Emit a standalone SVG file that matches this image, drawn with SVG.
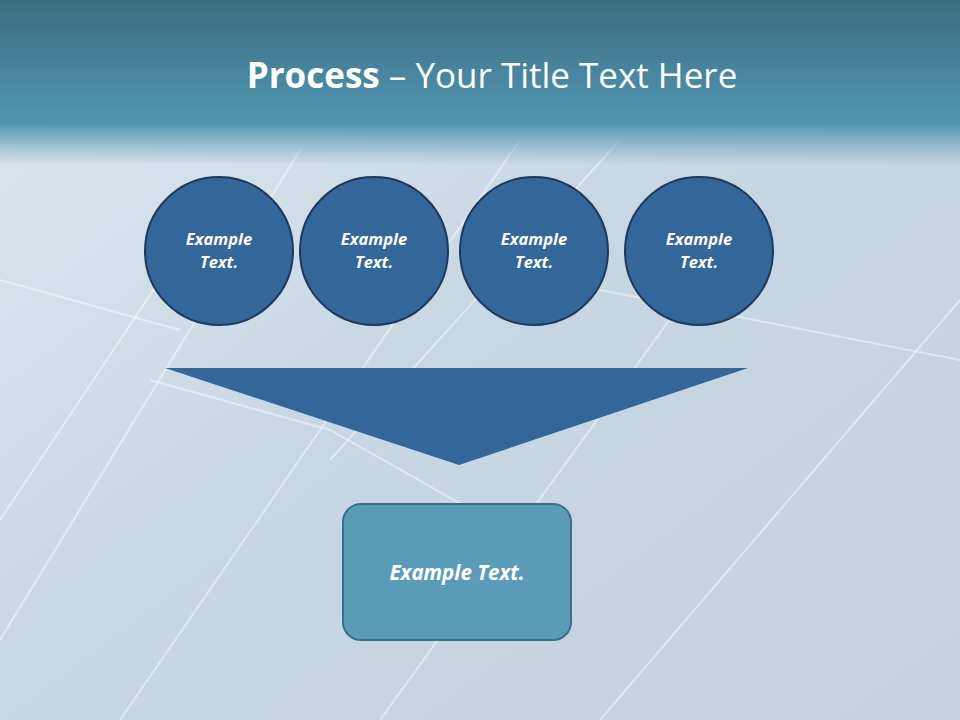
<svg xmlns="http://www.w3.org/2000/svg" width="960" height="720" viewBox="0 0 960 720">
<defs>
<linearGradient id="top" x1="0" y1="0" x2="0" y2="1">
<stop offset="0" stop-color="#3b6d82"/><stop offset="0.75" stop-color="#5196b2"/><stop offset="1" stop-color="#5fa0ba" stop-opacity="0"/>
</linearGradient>
<linearGradient id="bg" x1="0" y1="0" x2="1" y2="1">
<stop offset="0" stop-color="#dde9ef"/><stop offset="0.5" stop-color="#c6d6e2"/><stop offset="1" stop-color="#c4d2de"/>
</linearGradient>
<style>
.c{fill:#336699;stroke:#1d3a5c;stroke-width:2}
.t{font-family:"Open Sans","Liberation Sans",sans-serif;font-style:italic;font-weight:bold;fill:#fff;text-anchor:middle}
.ln{stroke:#fff;stroke-opacity:0.45;fill:none}
</style>
</defs>
<rect width="960" height="720" fill="url(#bg)"/>
<g class="ln" stroke-width="2">
<path d="M0 640 L300 150"/><path d="M120 720 L520 140"/><path d="M330 460 L620 140"/><path d="M380 720 L720 250"/><path d="M600 720 L960 300"/><path d="M0 520 L200 220"/>
<path d="M150 380 L330 430 L560 560"/><path d="M600 290 L960 360"/><path d="M0 280 L180 330"/>
</g>
<rect width="960" height="165" fill="url(#top)"/>
<text x="492" y="88" font-family="Open Sans,Liberation Sans,sans-serif" font-size="35" fill="#fff" text-anchor="middle"><tspan font-weight="bold">Process</tspan> – Your Title Text Here</text>
<g id="n1"><circle class="c" cx="219" cy="251" r="74"/><text class="t" font-size="16.5" x="219" y="245">Example</text><text class="t" font-size="16.5" x="219" y="268">Text.</text></g>
<g id="n2"><circle class="c" cx="374" cy="251" r="74"/><text class="t" font-size="16.5" x="374" y="245">Example</text><text class="t" font-size="16.5" x="374" y="268">Text.</text></g>
<g id="n3"><circle class="c" cx="534" cy="251" r="74"/><text class="t" font-size="16.5" x="534" y="245">Example</text><text class="t" font-size="16.5" x="534" y="268">Text.</text></g>
<g id="n4"><circle class="c" cx="699" cy="251" r="74"/><text class="t" font-size="16.5" x="699" y="245">Example</text><text class="t" font-size="16.5" x="699" y="268">Text.</text></g>
<g id="connectors"><polygon points="165,368 748,368 459,465" fill="#336699"/></g>
<g id="n5"><rect x="343" y="504" width="228" height="136" rx="18" fill="#5a9cb8" stroke="#3b6f8a" stroke-width="2"/><text class="t" font-size="20.5" x="457" y="580">Example Text.</text></g>
</svg>
